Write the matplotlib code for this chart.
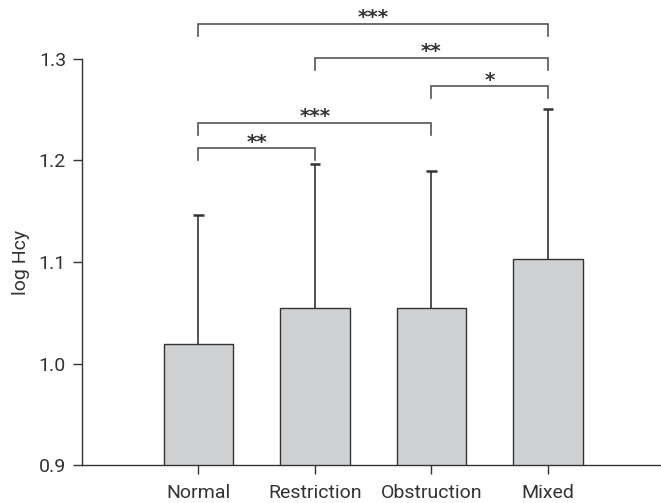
import matplotlib.pyplot as plt

# group means and upper error (log Hcy)
groups = ["Normal", "Restriction", "Obstruction", "Mixed"]
means = [1.019, 1.055, 1.055, 1.103]
errs = [0.127, 0.141, 0.134, 0.147]

# significance brackets: (left group, right group, label)
pairs = [(0, 3, "***"), (1, 3, "**"), (2, 3, "*"), (0, 2, "***"), (0, 1, "**")]
bracket_y = [1.334, 1.301, 1.273, 1.237, 1.212]

plt.rcParams["font.family"] = ["Roboto", "DejaVu Sans"]
dark = "#333333"

fig = plt.figure(figsize=(6.61, 5.03), dpi=100)
ax = fig.add_axes([82 / 661, 37.6 / 503, 1 - 82 / 661, 465.4 / 503])

x = list(range(len(groups)))
ax.bar(x, means, width=0.6, color="#d0d1d3", edgecolor=dark, linewidth=1.0, zorder=2)

# upper-only error bars
tops = [m + e for m, e in zip(means, errs)]
ax.vlines(x, means, tops, color=dark, lw=1.2, zorder=3)
ax.hlines(tops, [i - 0.047 for i in x], [i + 0.047 for i in x], color=dark, lw=1.8, zorder=3)

ax.set_xlim(-1, 3.97)
ax.set_ylim(0.9, 1.3576)
ax.set_yticks([0.9, 1.0, 1.1, 1.2, 1.3])
ax.set_yticklabels(["0.9", "1.0", "1.1", "1.2", "1.3"])
ax.set_xticks(x)
ax.set_xticklabels(groups)

for s in ["top", "right"]:
    ax.spines[s].set_visible(False)
ax.spines["left"].set_bounds(0.9, 1.3)
ax.spines["left"].set_color(dark)
ax.spines["bottom"].set_color(dark)
ax.spines["left"].set_linewidth(1.0)
ax.spines["bottom"].set_linewidth(1.0)
ax.tick_params(axis="both", colors=dark, labelsize=14, length=6.5, width=1.0, pad=5)
ax.tick_params(axis="x", pad=7)

drop = 0.0118
for (a, b, lab), yb in zip(pairs, bracket_y):
    ax.plot([a, a, b, b], [yb - drop, yb, yb, yb - drop], color="#555555",
            lw=1.2, clip_on=False, solid_joinstyle="miter")
    ax.text((a + b) / 2, yb + 0.0005, lab, ha="center", va="baseline", fontsize=14.5,
            family="DejaVu Sans", fontweight="bold", color=dark, clip_on=False)

fig.text(21 / 661, 1 - 262 / 503, "log Hcy", rotation=90, ha="center", va="center",
         fontsize=14, color=dark)

fig.savefig("out.png", dpi=100)
